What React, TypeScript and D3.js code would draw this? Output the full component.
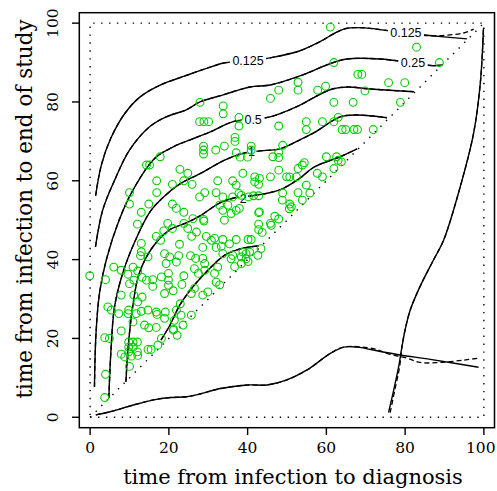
import React from 'react';
import * as d3 from 'd3';

type Pt = [number, number];

const W = 497;
const H = 491;
const tickValues = [0, 20, 40, 60, 80, 100];
const xTitle = 'time from infection to diagnosis';
const yTitle = 'time from infection to end of study';

// observations: [time to diagnosis, time to end of study]
const obsHigh: Pt[] = [
  [61.0,99.0],[82.9,93.9],[88.7,90.0],[61.9,90.0],[68.0,87.0],[69.0,87.0],[75.8,84.9],[79.9,84.9],[52.8,85.0],[52.8,83.0],
  [47.9,83.0],[45.8,80.9],[57.8,83.0],[59.8,84.0],[69.8,82.8],[61.9,79.9],[66.8,79.9],[78.8,79.9],[27.9,79.9],[33.8,79.0],
  [33.8,77.0],[37.8,76.1],[37.8,73.9],[27.8,75.0],[28.9,75.0],[30.1,75.0],[36.8,71.0],[36.8,70.0],[47.9,73.9],[54.9,75.0],
  [54.9,73.0],[59.0,75.0],[61.9,75.0],[63.0,76.1],[64.0,73.0],[64.9,73.0],[67.0,73.0],[67.9,73.0],[71.9,73.0],
];
const obs60: Pt[] = [
  [28.8,68.8],[28.8,67.8],[28.8,66.8],[31.9,67.8],[34.1,68.8],[40.9,68.8],[40.9,67.8],[37.1,67.1],[38.1,66.0],[40.0,66.0],
  [48.9,69.0],[47.9,67.2],[47.9,65.9],[46.4,66.1],[17.8,66.1],[14.3,64.0],[15.1,64.0],[22.8,62.9],[24.8,61.9],[16.9,60.0],
  [23.8,60.0],[32.4,60.0],[60.0,66.1],[62.6,66.1],[63.0,65.2],[63.8,64.8],[61.9,63.1],[53.9,64.0],[52.8,63.1],[52.4,61.0],
  [50.7,61.0],[49.9,61.0],[57.7,61.9],[59.0,61.0],[47.9,62.7],[45.8,61.0],[41.8,61.0],[38.8,61.9],[36.2,60.0],[43.0,60.6],
  [54.4,64.6],
];
const obs50: Pt[] = [
  [20.9,59.1],[25.9,59.1],[10.0,57.0],[10.0,54.1],[16.9,57.0],[27.8,55.9],[29.1,57.0],[32.0,57.0],[14.9,54.1],[20.9,54.1],
  [21.9,53.0],[23.8,52.0],[13.0,52.0],[28.8,50.2],[37.1,58.9],[41.8,59.7],[42.8,59.1],[33.7,55.9],[36.2,55.9],[37.8,56.8],
  [38.4,56.3],[41.5,56.2],[42.8,56.2],[32.9,53.8],[35.0,53.8],[33.7,52.5],[37.9,53.0],[37.1,52.5],[43.0,52.1],[35.8,51.7],
  [34.1,50.0],[48.9,56.9],[48.8,55.1],[50.7,54.1],[51.1,53.4],[42.8,51.9],[40.2,55.9],[46.9,51.0],[52.8,57.0],[55.8,56.9],
  [53.9,55.1],[50.6,52.9],[54.9,58.9],[26.1,50.4],
];
const obs40: Pt[] = [
  [12.0,49.0],[19.7,49.2],[18.7,47.3],[20.9,47.9],[23.8,49.2],[24.8,47.9],[27.0,47.0],[28.9,49.8],[16.8,45.9],[17.9,44.9],
  [25.8,45.9],[22.7,43.9],[29.5,45.9],[30.8,44.9],[31.6,45.4],[28.6,43.1],[13.0,44.1],[13.0,42.0],[32.0,43.1],[33.7,45.1],
  [35.4,44.0],[37.1,45.1],[40.1,45.1],[40.9,45.1],[33.3,43.4],[33.7,41.5],[36.2,41.1],[35.8,40.2],[38.8,41.9],[39.6,41.5],
  [40.5,41.9],[38.4,40.7],[39.6,40.2],[42.6,41.1],[43.4,42.8],[36.7,38.2],[38.4,39.0],[40.1,39.5],[47.9,50.3],[45.8,49.2],
  [42.8,49.0],[42.8,47.6],[43.7,46.9],[46.0,48.7],
];
const obsLow: Pt[] = [
  [12.8,41.0],[14.7,40.7],[18.9,41.5],[19.3,39.0],[20.2,40.7],[21.9,39.4],[22.5,41.0],[25.5,41.0],[26.8,40.3],[28.6,40.3],
  [29.1,39.0],[3.9,34.9],[6.0,38.1],[7.9,37.3],[9.6,36.3],[10.9,38.1],[12.1,37.1],[13.2,35.5],[10.0,33.9],[11.1,34.8],
  [14.3,34.8],[15.9,34.9],[15.9,33.2],[18.1,35.6],[19.9,36.5],[19.9,34.8],[19.9,33.5],[18.9,31.4],[21.1,32.1],[23.8,35.9],
  [26.5,37.7],[27.5,36.5],[29.1,37.3],[23.3,33.7],[25.7,31.4],[26.5,32.7],[7.9,31.0],[11.1,31.0],[12.1,29.3],[13.2,30.5],
  [4.5,28.0],[5.4,27.2],[7.3,26.3],[9.6,26.3],[9.8,27.2],[11.7,26.3],[13.0,26.9],[14.7,27.2],[16.8,26.7],[17.0,26.1],
  [19.1,26.7],[21.9,27.2],[23.1,25.9],[25.7,25.9],[10.9,24.2],[13.8,23.4],[14.9,22.7],[16.8,22.8],[18.9,25.1],[21.4,24.6],
  [21.2,22.3],[23.6,23.4],[7.9,21.9],[3.7,20.2],[4.9,20.0],[9.8,19.1],[10.9,19.1],[12.0,19.1],[9.8,17.8],[10.9,17.8],
  [9.8,16.6],[12.0,16.6],[10.5,15.5],[12.1,15.7],[14.7,17.2],[15.5,17.2],[17.2,18.3],[21.1,22.1],[22.1,20.8],
  [-0.1,35.9],[3.9,10.9],[3.7,5.0],[10.0,12.9],[7.9,16.0],[8.8,15.3],[18.1,20.0],
  [29.9,31.8],[31.6,36.5],[32.4,38.1],[32.0,34.3],[32.9,33.6],[28.6,31.0],[22.9,28.8],
];

// contour lines (solid set)
const level0125: Pt[] = [
  [1.4,56.2],[2.8,63.8],[5.3,70.9],[8.9,77.2],[12.7,81.3],[17.8,84.3],[24.1,86.6],[29.2,88.4],[34.0,89.9],[40.1,90.4],
  [45.7,91.2],[53.3,93.0],[58.4,95.3],[62.2,97.5],[65.2,98.7],[69.8,98.8],[74.1,98.3],[80.2,97.5],[86.8,96.8],[95.7,96.0],
];
const level025: Pt[] = [
  [1.35,43.2],[3.2,52.6],[6.6,61.0],[10.0,67.8],[15.1,73.7],[19.3,76.2],[24.4,78.0],[27.9,80.0],[33.8,81.8],[40.6,83.8],
  [45.7,84.3],[53.3,86.6],[60.9,89.7],[65.2,90.9],[73.6,90.9],[82.0,89.9],[87.1,89.2],[89.3,89.4],
];
const level05: Pt[] = [
  [1.1,7.7],[1.5,21.4],[2.4,31.6],[4.1,39.9],[7.4,50.1],[10.9,57.7],[16.5,65.8],[21.1,68.6],[25.4,70.4],[30.5,72.4],
  [36.3,75.0],[41.9,75.7],[45.7,76.2],[52.5,78.8],[60.9,83.1],[65.2,83.8],[71.1,83.3],[82.2,82.6],
];
const level1: Pt[] = [
  [4.75,4.9],[5.3,17.1],[6.2,28.0],[8.3,36.6],[11.2,44.2],[15.2,52.1],[19.0,56.2],[22.8,59.2],[27.9,61.8],[34.3,65.3],
  [39.3,67.1],[43.2,67.6],[48.2,68.1],[53.3,70.4],[56.9,72.2],[63.5,76.2],[67.8,76.7],[75.4,76.0],
];
const level2: Pt[] = [
  [9.1,9.0],[9.6,17.1],[10.8,28.0],[12.5,36.6],[15.9,43.2],[20.1,47.5],[24.4,49.3],[27.9,51.1],[33.0,54.4],[36.8,55.7],
  [41.1,56.2],[48.2,57.7],[53.3,60.7],[56.9,63.5],[63.5,66.1],[67.8,68.1],
];
const level4: Pt[] = [
  [18.0,19.6],[20.3,23.4],[22.8,28.5],[26.7,33.8],[30.5,37.9],[34.3,41.2],[38.1,42.7],[42.9,43.5],
];
const levelLowBand: Pt[] = [
  [1.45,0.6],[5.1,1.4],[11.0,3.1],[16.1,4.4],[20.3,5.0],[24.5,5.2],[27.9,5.9],[32.2,7.1],[36.4,7.8],[40.2,8.2],
  [44.9,8.2],[50.0,9.5],[55.1,12.0],[61.0,16.2],[64.4,17.8],[67.8,17.8],[73.7,16.7],[78.8,15.8],[86.4,14.7],[98.65,12.7],
];
const levelRight: Pt[] = [
  [75.8,1.2],[77.1,6.9],[78.35,12.8],[79.2,17.9],[80.0,22.2],[81.3,27.2],[83.8,33.2],[87.2,39.9],[89.8,45.0],[94.0,58.5],
  [97.4,72.1],[99.1,84.8],[99.9,98.7],
];
// dashed (second estimate) ends that part from the solid set
const dashedTop: Pt[] = [[86.8,96.8],[94.85,97.5],[97.4,98.5]];
const dashedLowBand: Pt[] = [[67.8,17.8],[72.0,17.4],[76.0,16.0],[80.5,15.0],[83.8,13.9],[88.9,13.9],[94.85,14.5],[98.65,15.0]];
const dashedRight: Pt[] = [[76.2,1.2],[77.4,7.0],[78.6,12.8]];

const labelText = ['0.125', '0.125', '0.25', '0.5', '1', '2'];
const labelX = [40.1, 80.2, 82.0, 41.4, 41.0, 38.9];
const labelY = [90.4, 97.5, 89.9, 75.6, 67.4, 55.5];

const regionSquare: Pt[] = [[0, 0], [100, 0], [100, 100], [0, 100], [0, 0]];
const regionDiagonal: Pt[] = [[0, 0], [100, 100]];

export default function App() {
  const left = 79.3, right = 494.5, top = 12.7, bottom = 427.7;
  const x = d3.scaleLinear().domain([-2.75, 102.7]).range([left, right]);
  const y = d3.scaleLinear().domain([-2.65, 102.65]).range([bottom, top]);

  const smooth = d3.line<Pt>().x(d => x(d[0])).y(d => y(d[1])).curve(d3.curveCatmullRom.alpha(0.5));
  const straight = d3.line<Pt>().x(d => x(d[0])).y(d => y(d[1]));

  const solidLevels = [level0125, level025, level05, level1, level2, level4, levelLowBand, levelRight];
  const dashedLevels = [
    level0125.slice(0, -1).concat(dashedTop.slice(1)),
    level025, level05, level1, level2, level4,
    levelLowBand.slice(0, 15).concat(dashedLowBand.slice(1)),
    dashedRight.concat(levelRight.slice(3)),
  ];
  const points = [...obsHigh, ...obs60, ...obs50, ...obs40, ...obsLow];

  const serif = "'DejaVu Serif', serif";
  const sans = "'Liberation Sans', Arial, sans-serif";
  const tickFont = 15.5;
  const tickHalf = (t: number) => String(t).length * tickFont * 0.318;

  return (
    <svg width={W} height={H} style={{ position: 'absolute', left: 0, top: 0, background: '#fff' }}>
      <rect x={0} y={0} width={W} height={H} fill="#fff" />
      {/* region boundary */}
      <path d={straight(regionSquare) || ''} fill="none" stroke="#000" strokeWidth={1.4} strokeDasharray="1.4,6.5" />
      <path d={straight(regionDiagonal) || ''} fill="none" stroke="#000" strokeWidth={1.4} strokeDasharray="1.4,6.5" />
      {/* contours */}
      {dashedLevels.map((c, i) => (
        <path key={'d' + i} d={smooth(c) || ''} fill="none" stroke="#000" strokeWidth={1.3} strokeDasharray="5,3" />
      ))}
      {solidLevels.map((c, i) => (
        <path key={'s' + i} d={smooth(c) || ''} fill="none" stroke="#000" strokeWidth={1.4} />
      ))}
      {labelText.map((t, i) => {
        const w = t.length * 6.6 + 3;
        return (
          <g key={'l' + i}>
            <rect x={x(labelX[i]) - w / 2} y={y(labelY[i]) - 6} width={w} height={11} fill="#fff" />
            <text x={x(labelX[i])} y={y(labelY[i]) + 4.2} textAnchor="middle" fontFamily={sans} fontSize={12.5} fill="#000">{t}</text>
          </g>
        );
      })}
      {/* observations */}
      {points.map((p, i) => (
        <circle key={'p' + i} cx={x(p[0])} cy={y(p[1])} r={3.9} fill="none" stroke="#00cd00" strokeWidth={1.1} />
      ))}
      {/* box */}
      <rect x={left} y={top} width={right - left} height={bottom - top} fill="none" stroke="#000" strokeWidth={1.5} />
      {/* x axis */}
      {tickValues.map(t => (
        <g key={'xt' + t}>
          <line x1={x(t)} x2={x(t)} y1={bottom} y2={bottom + 7.3} stroke="#000" strokeWidth={1.4} />
          <text x={Math.min(x(t), W - 1.5 - tickHalf(t))} y={453} textAnchor="middle" fontFamily={serif} fontSize={tickFont} fill="#000">{t}</text>
        </g>
      ))}
      {/* y axis */}
      {tickValues.map(t => (
        <g key={'yt' + t}>
          <line x1={left} x2={left - 7.3} y1={y(t)} y2={y(t)} stroke="#000" strokeWidth={1.4} />
          <text transform={`translate(58,${y(t)}) rotate(-90)`} textAnchor="middle" fontFamily={serif} fontSize={tickFont} fill="#000">{t}</text>
        </g>
      ))}
      <text x={293} y={484} textAnchor="middle" fontFamily={serif} fontSize={21} fill="#000">{xTitle}</text>
      <text transform={`translate(32,209) rotate(-90)`} textAnchor="middle" fontFamily={serif} fontSize={21.5} fill="#000">{yTitle}</text>
    </svg>
  );
}
